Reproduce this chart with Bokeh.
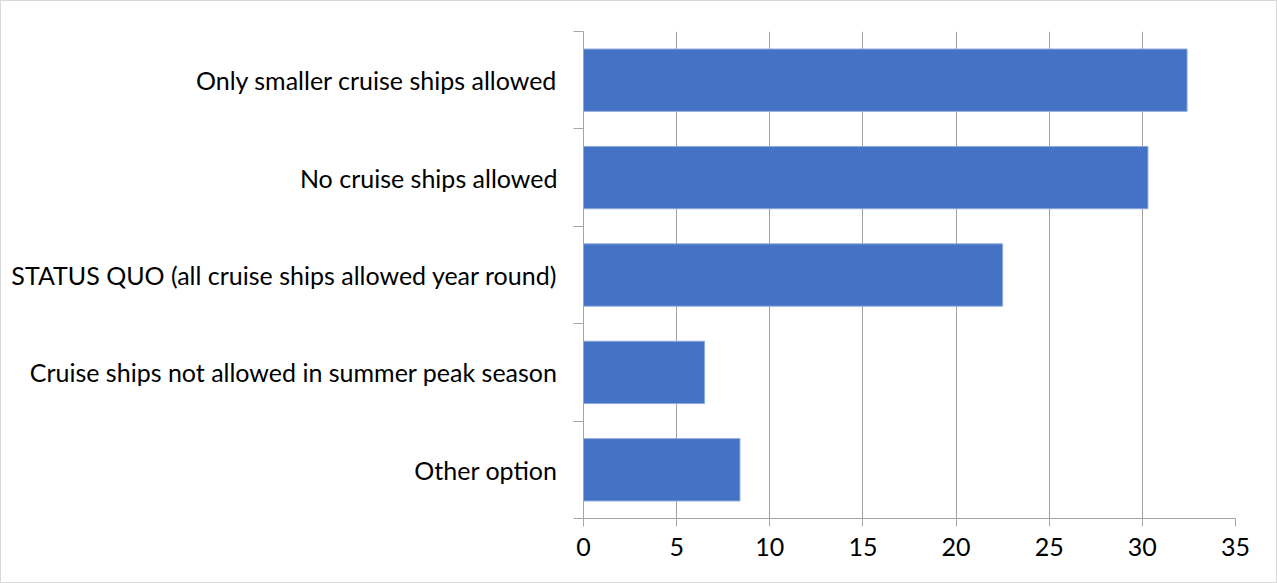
from bokeh.plotting import figure
from bokeh.models import Range1d, FixedTicker, ColumnDataSource
from bokeh.embed import file_html
from bokeh.resources import INLINE

categories = [
    "Only smaller cruise ships allowed",
    "No cruise ships allowed",
    "STATUS QUO (all cruise ships allowed year round)",
    "Cruise ships not allowed in summer peak season",
    "Other option",
]
values = [32.4, 30.3, 22.5, 6.5, 8.4]
x_ticks = [0, 5, 10, 15, 20, 25, 30, 35]

positions = list(range(len(categories)))
src = ColumnDataSource(dict(y=positions, v=values, cat=categories))

FONT = "Lato"

p = figure(width=1277, height=583, output_backend="svg", toolbar_location=None,
           x_range=Range1d(0, 35), y_range=Range1d(len(categories) - 0.5, -0.5),
           min_border_left=582, min_border_right=43, min_border_top=30, min_border_bottom=66)
p.outline_line_color = None
p.background_fill_color = "white"
p.border_fill_color = "white"
p.styles = {"border": "1px solid #d9d9d9", "box-sizing": "border-box"}

p.hbar(y="y", right="v", left=0, height=0.64, source=src,
       fill_color="#4472C4", line_color="#8eaadb", line_width=1)

# x axis
p.xaxis.ticker = FixedTicker(ticks=x_ticks)
p.xaxis.axis_line_color = "#a6a6a6"
p.xaxis.major_tick_line_color = "#a6a6a6"
p.xaxis.major_tick_out = 8
p.xaxis.major_tick_in = 0
p.xaxis.minor_tick_line_color = None
p.xaxis.major_label_text_font = FONT
p.xaxis.major_label_text_font_size = "25px"
p.xaxis.major_label_text_color = "black"
p.xaxis.major_label_standoff = 11

# y axis: labels at centres, ticks at boundaries
boundaries = [i - 0.5 for i in range(len(categories) + 1)]
p.yaxis.ticker = FixedTicker(ticks=positions, minor_ticks=boundaries)
p.yaxis.major_label_overrides = {i: c for i, c in zip(positions, categories)}
p.yaxis.axis_line_color = "#a6a6a6"
p.yaxis.major_tick_line_color = None
p.yaxis.major_tick_out = 0
p.yaxis.major_tick_in = 0
p.yaxis.minor_tick_line_color = "#a6a6a6"
p.yaxis.minor_tick_out = 10
p.yaxis.minor_tick_in = 0
p.yaxis.major_label_text_font = FONT
p.yaxis.major_label_text_font_size = "25px"
p.yaxis.major_label_text_color = "black"
p.yaxis.major_label_standoff = 16

p.ygrid.grid_line_color = None
p.xgrid.grid_line_color = "#a0a0a0"
p.xgrid.grid_line_width = 1

open("out.html", "w").write(file_html(p, INLINE))
